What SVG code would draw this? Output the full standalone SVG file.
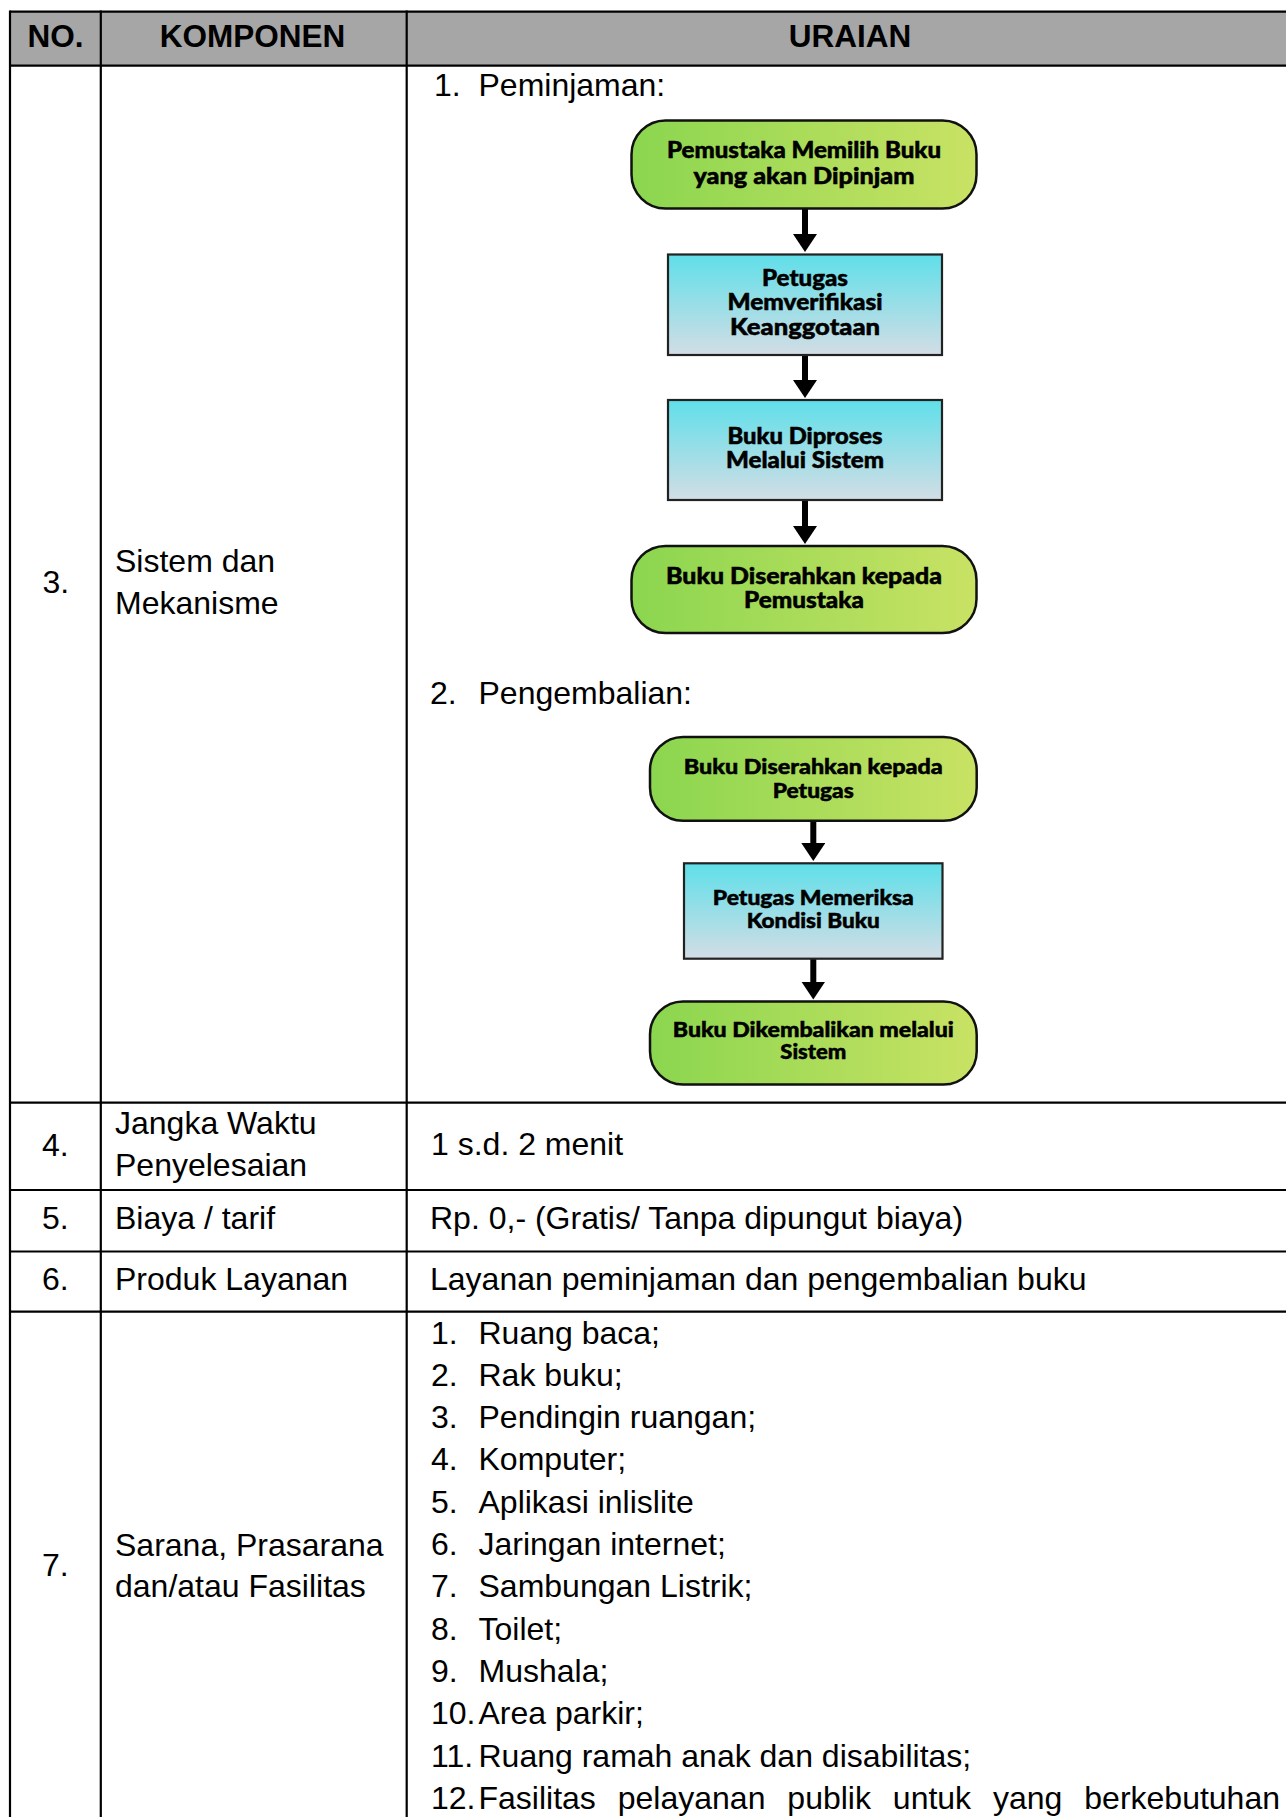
<svg xmlns="http://www.w3.org/2000/svg" width="1286" height="1817" viewBox="0 0 1286 1817">
<style>
.t{font-family:"Liberation Sans",Arial,sans-serif;font-size:32px;fill:#000}
.h{font-family:"Liberation Sans",Arial,sans-serif;font-size:31.5px;font-weight:bold;fill:#000}
.f{font-family:Lato,"Open Sans",sans-serif;font-weight:900;font-size:22px;fill:#000;stroke:#000;stroke-width:0.5;text-anchor:middle}
.f2{font-family:Lato,"Open Sans",sans-serif;font-weight:900;font-size:21px;fill:#000;stroke:#000;stroke-width:0.5;text-anchor:middle}
.grid{stroke:#000;stroke-width:2.2;fill:none}
.gbox{fill:url(#green);stroke:#111;stroke-width:2.5}
.cbox{fill:url(#cyan);stroke:#222;stroke-width:2.2}
.arr{stroke:#000;stroke-width:6;fill:none;marker-end:url(#ah)}
</style>
<defs>
<linearGradient id="green" x1="0" y1="0" x2="1" y2="0">
<stop offset="0" stop-color="#8bd64f"/>
<stop offset="1" stop-color="#c9e264"/>
</linearGradient>
<linearGradient id="cyan" x1="0" y1="0" x2="0" y2="1">
<stop offset="0" stop-color="#5fdfe9"/>
<stop offset="1" stop-color="#d3dde5"/>
</linearGradient>
<marker id="ah" markerUnits="userSpaceOnUse" viewBox="0 0 18 24" refX="8" refY="12" markerWidth="18" markerHeight="24" orient="auto">
<path d="M0,0 L18,12 L0,24 Z" fill="#000"/>
</marker>
</defs>
<rect x="0" y="0" width="1286" height="1817" fill="#fff"/>

<g id="table">
<rect x="10" y="11.7" width="1276" height="54" fill="#a6a6a6"/>
<line class="grid" x1="10" y1="11.7" x2="1286" y2="11.7"/>
<line class="grid" x1="10" y1="65.7" x2="1286" y2="65.7" stroke-width="3.2"/>
<line class="grid" x1="10" y1="1102.7" x2="1286" y2="1102.7"/>
<line class="grid" x1="10" y1="1190" x2="1286" y2="1190"/>
<line class="grid" x1="10" y1="1251.5" x2="1286" y2="1251.5"/>
<line class="grid" x1="10" y1="1311.7" x2="1286" y2="1311.7"/>
<line class="grid" x1="10" y1="10.6" x2="10" y2="1817"/>
<line class="grid" x1="100.8" y1="10.6" x2="100.8" y2="1817"/>
<line class="grid" x1="406.7" y1="10.6" x2="406.7" y2="1817"/>
<text class="h" x="55.6" y="47" text-anchor="middle">NO.</text>
<text class="h" x="252.6" y="47" text-anchor="middle">KOMPONEN</text>
<text class="h" x="850" y="47" text-anchor="middle">URAIAN</text>

<text class="t" x="42.5" y="593">3.</text>
<text class="t" x="115" y="572">Sistem dan</text>
<text class="t" x="115" y="613.5">Mekanisme</text>
<text class="t" x="434" y="96">1.</text>
<text class="t" x="478.5" y="96">Peminjaman:</text>
<text class="t" x="430" y="704">2.</text>
<text class="t" x="478.5" y="704">Pengembalian:</text>

<text class="t" x="42" y="1156">4.</text>
<text class="t" x="115" y="1134">Jangka Waktu</text>
<text class="t" x="115" y="1175.5">Penyelesaian</text>
<text class="t" x="431" y="1155">1 s.d. 2 menit</text>

<text class="t" x="42" y="1228.5">5.</text>
<text class="t" x="115" y="1228.5">Biaya / tarif</text>
<text class="t" x="430" y="1228.5">Rp. 0,- (Gratis/ Tanpa dipungut biaya)</text>

<text class="t" x="42" y="1290">6.</text>
<text class="t" x="115" y="1290">Produk Layanan</text>
<text class="t" x="430" y="1290">Layanan peminjaman dan pengembalian buku</text>

<text class="t" x="42" y="1576">7.</text>
<text class="t" x="115" y="1555.5">Sarana, Prasarana</text>
<text class="t" x="115" y="1597">dan/atau Fasilitas</text>

<text class="t" x="431" y="1343.5">1.</text><text class="t" x="478.5" y="1343.5">Ruang baca;</text>
<text class="t" x="431" y="1385.8">2.</text><text class="t" x="478.5" y="1385.8">Rak buku;</text>
<text class="t" x="431" y="1428.1">3.</text><text class="t" x="478.5" y="1428.1">Pendingin ruangan;</text>
<text class="t" x="431" y="1470.4">4.</text><text class="t" x="478.5" y="1470.4">Komputer;</text>
<text class="t" x="431" y="1512.7">5.</text><text class="t" x="478.5" y="1512.7">Aplikasi inlislite</text>
<text class="t" x="431" y="1555">6.</text><text class="t" x="478.5" y="1555">Jaringan internet;</text>
<text class="t" x="431" y="1597.3">7.</text><text class="t" x="478.5" y="1597.3">Sambungan Listrik;</text>
<text class="t" x="431" y="1639.6">8.</text><text class="t" x="478.5" y="1639.6">Toilet;</text>
<text class="t" x="431" y="1681.9">9.</text><text class="t" x="478.5" y="1681.9">Mushala;</text>
<text class="t" x="431" y="1724.2">10.</text><text class="t" x="478.5" y="1724.2">Area parkir;</text>
<text class="t" x="431" y="1766.5">11.</text><text class="t" x="478.5" y="1766.5">Ruang ramah anak dan disabilitas;</text>
<text class="t" x="431" y="1808.8">12.</text><text class="t" x="478.5" y="1808.8" word-spacing="13">Fasilitas pelayanan publik untuk yang berkebutuhan</text>
</g>

<g id="connectors">
<line class="arr" x1="805" y1="208.5" x2="805" y2="242"/>
<line class="arr" x1="805" y1="355" x2="805" y2="388"/>
<line class="arr" x1="805" y1="500" x2="805" y2="534"/>
<line class="arr" x1="813.3" y1="820.7" x2="813.3" y2="851"/>
<line class="arr" x1="813.3" y1="958.7" x2="813.3" y2="989.5"/>
</g>

<g id="node-a">
<rect class="gbox" x="631.5" y="120.5" width="345" height="88" rx="34"/>
<text class="f" x="804" y="157.5" textLength="274" lengthAdjust="spacingAndGlyphs">Pemustaka Memilih Buku</text>
<text class="f" x="804" y="183.5" textLength="221" lengthAdjust="spacingAndGlyphs">yang akan Dipinjam</text>
</g>
<g id="node-b">
<rect class="cbox" x="668" y="254.5" width="274" height="100.5"/>
<text class="f" x="805" y="285.5" textLength="86" lengthAdjust="spacingAndGlyphs">Petugas</text>
<text class="f" x="805" y="310" textLength="155" lengthAdjust="spacingAndGlyphs">Memverifikasi</text>
<text class="f" x="805" y="334.5" textLength="150" lengthAdjust="spacingAndGlyphs">Keanggotaan</text>
</g>
<g id="node-c">
<rect class="cbox" x="668" y="400" width="274" height="100"/>
<text class="f" x="805" y="443.5" textLength="155" lengthAdjust="spacingAndGlyphs">Buku Diproses</text>
<text class="f" x="805" y="468" textLength="158" lengthAdjust="spacingAndGlyphs">Melalui Sistem</text>
</g>
<g id="node-d">
<rect class="gbox" x="631.5" y="546" width="345" height="87" rx="34"/>
<text class="f" x="804" y="583.5" textLength="276" lengthAdjust="spacingAndGlyphs">Buku Diserahkan kepada</text>
<text class="f" x="804" y="607.5" textLength="120" lengthAdjust="spacingAndGlyphs">Pemustaka</text>
</g>
<g id="node-e">
<rect class="gbox" x="650" y="737" width="326.7" height="83.7" rx="33"/>
<text class="f2" x="813.3" y="773.5" textLength="259" lengthAdjust="spacingAndGlyphs">Buku Diserahkan kepada</text>
<text class="f2" x="813.3" y="797.5" textLength="81" lengthAdjust="spacingAndGlyphs">Petugas</text>
</g>
<g id="node-f">
<rect class="cbox" x="684" y="863.3" width="258.5" height="95.4"/>
<text class="f2" x="813.3" y="905" textLength="201" lengthAdjust="spacingAndGlyphs">Petugas Memeriksa</text>
<text class="f2" x="813.3" y="928" textLength="133" lengthAdjust="spacingAndGlyphs">Kondisi Buku</text>
</g>
<g id="node-g">
<rect class="gbox" x="650" y="1001.5" width="326.7" height="83" rx="33"/>
<text class="f2" x="813.3" y="1036.5" textLength="281" lengthAdjust="spacingAndGlyphs">Buku Dikembalikan melalui</text>
<text class="f2" x="813.3" y="1059" textLength="66" lengthAdjust="spacingAndGlyphs">Sistem</text>
</g>
</svg>
